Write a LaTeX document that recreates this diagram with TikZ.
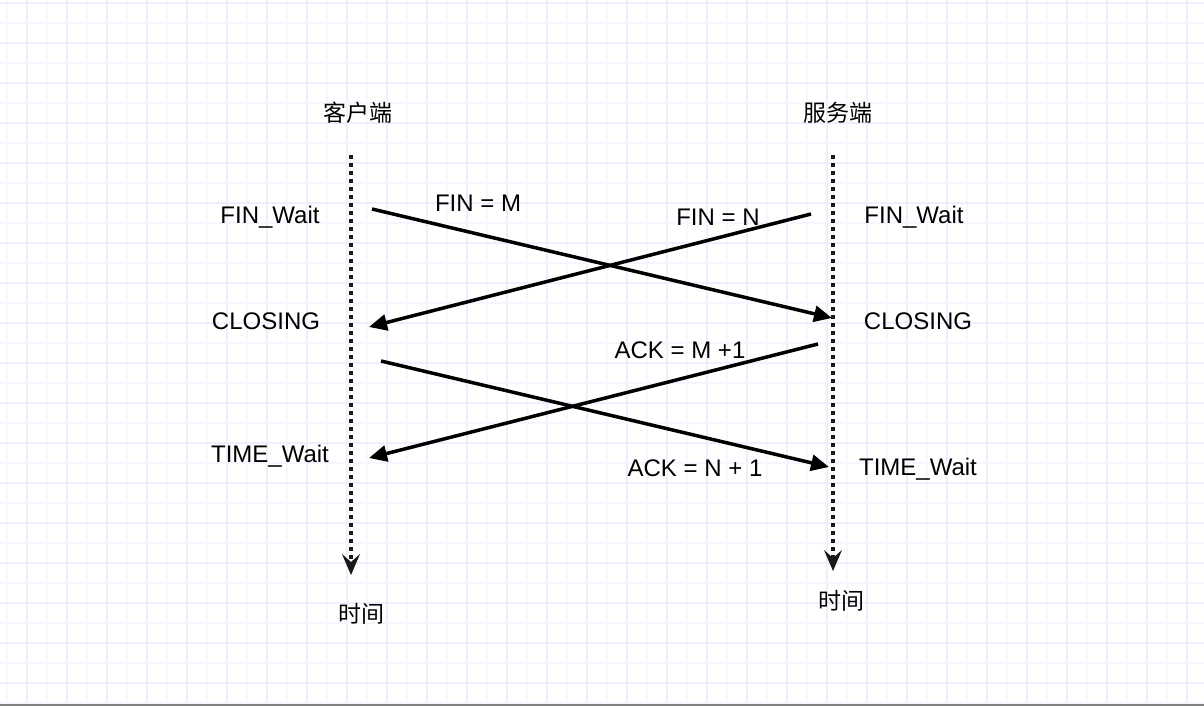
\documentclass[tikz,border=0pt]{standalone}
\usepackage{fontspec}
\setmainfont{Liberation Sans}
\newfontfamily\cjk{Noto Sans CJK SC}
\usetikzlibrary{arrows.meta}
\definecolor{gridlight}{HTML}{F6F6FF}
\definecolor{griddark}{HTML}{EEEEFF}
\tikzset{
  lbl/.style={font=\fontsize{24bp}{28bp}\selectfont, inner sep=0pt, text=black},
  cjklbl/.style={font=\fontsize{23bp}{27bp}\selectfont\cjk, inner sep=0pt, text=black},
  lifeline/.style={line width=3.8bp, dash pattern=on 4bp off 4bp, black!90,
    -{Stealth[length=21bp,width=18bp,inset=8bp,sep=0pt,line width=1bp]}},
  msg/.style={line width=3.5bp, black, -{Triangle[length=18bp,width=16bp]}},
}
\begin{document}
\begin{tikzpicture}[x=1bp,y=-1bp]
\useasboundingbox (0,0) rectangle (1204,706);
\fill[white] (0,0) rectangle (1204,706);
% grid
\foreach \gx in {7,47,...,1207} {\draw[gridlight,line width=1.6bp] (\gx,0) -- (\gx,703);}
\foreach \gx in {27,67,...,1207} {\draw[griddark,line width=1.6bp] (\gx,0) -- (\gx,703);}
\foreach \gy in {23,63,...,703} {\draw[gridlight,line width=1.6bp] (0,\gy) -- (1204,\gy);}
\foreach \gy in {3,43,...,703} {\draw[griddark,line width=1.6bp] (0,\gy) -- (1204,\gy);}
\fill[black!50] (0,703.5) rectangle (1204,706);

% headers
\node[cjklbl] (client) at (358,113) {客户端};
\node[cjklbl] (server) at (838,113) {服务端};

% lifelines
\coordinate (ctop) at (351,155);
\coordinate (cbot) at (351,575);
\coordinate (stop) at (833,155);
\coordinate (sbot) at (833,571);
\draw[lifeline] (ctop) -- (cbot);
\draw[lifeline] (stop) -- (sbot);

\node[cjklbl] (ctime) at (361,614) {时间};
\node[cjklbl] (stime) at (841,601) {时间};

% state labels
\node[lbl] (cfw) at (270,217) {FIN\_Wait};
\node[lbl] (sfw) at (914,217) {FIN\_Wait};
\node[lbl] (ccl) at (266,321) {CLOSING};
\node[lbl] (scl) at (918,321) {CLOSING};
\node[lbl] (ctw) at (270,456) {TIME\_Wait};
\node[lbl] (stw) at (918,469) {TIME\_Wait};

% messages
\coordinate (m1s) at (372,209);
\coordinate (m1e) at (832,318);
\coordinate (m2s) at (811,214);
\coordinate (m2e) at (369,327);
\coordinate (m3s) at (818,344);
\coordinate (m3e) at (369,458);
\coordinate (m4s) at (381,361);
\coordinate (m4e) at (829,467);
\draw[msg] (m1s) -- (m1e);
\draw[msg] (m2s) -- (m2e);
\draw[msg] (m3s) -- (m3e);
\draw[msg] (m4s) -- (m4e);

\node[lbl] (finm) at (478,203) {FIN = M};
\node[lbl] (finn) at (718,217) {FIN = N};
\node[lbl] (ackm) at (680,350) {ACK = M +1};
\node[lbl] (ackn) at (695,468) {ACK = N + 1};
\end{tikzpicture}
\end{document}
